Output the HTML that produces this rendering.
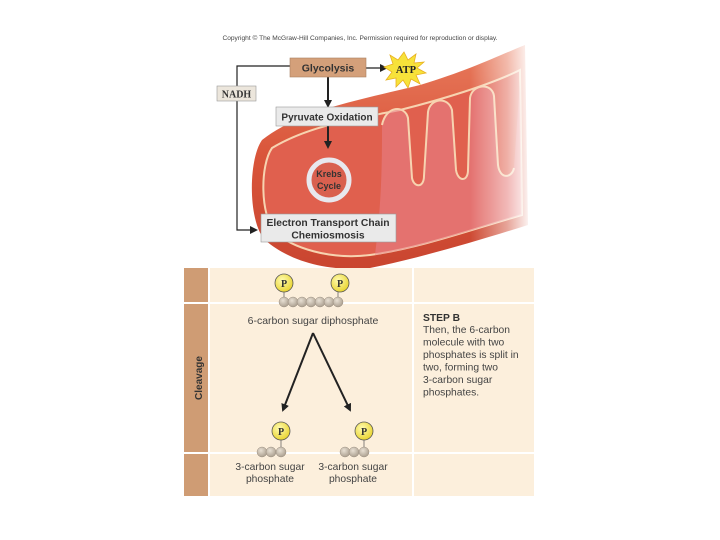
<!DOCTYPE html>
<html><head><meta charset="utf-8"><style>
html,body{margin:0;padding:0;background:#fff;}
svg{display:block;}
text{font-family:"Liberation Sans",sans-serif;}
text.serif{font-family:"Liberation Serif",serif;}
</style></head><body>
<svg width="720" height="540" viewBox="0 0 720 540">
<defs>
<linearGradient id="mg" x1="0" y1="0" x2="0" y2="1">
<stop offset="0" stop-color="#e87a5c"/><stop offset="0.5" stop-color="#d9553a"/><stop offset="1" stop-color="#c94530"/>
</linearGradient>
<linearGradient id="fade" x1="0" y1="0" x2="1" y2="0">
<stop offset="0" stop-color="#fff" stop-opacity="0"/><stop offset="0.6" stop-color="#fff" stop-opacity="0.5"/><stop offset="1" stop-color="#fff" stop-opacity="1"/>
</linearGradient>
<radialGradient id="pg" cx="0.4" cy="0.35" r="0.7">
<stop offset="0" stop-color="#fffbb0"/><stop offset="1" stop-color="#e8d22a"/>
</radialGradient>
<radialGradient id="bg" cx="0.4" cy="0.35" r="0.7">
<stop offset="0" stop-color="#e8e0d4"/><stop offset="1" stop-color="#a89c8c"/>
</radialGradient>
<marker id="ah" markerWidth="8" markerHeight="8" refX="6" refY="4" orient="auto" markerUnits="userSpaceOnUse"><path d="M0,0 L8,4 L0,8 Z" fill="#222"/></marker>
</defs>
<text x="360" y="40" font-size="6.6" text-anchor="middle" fill="#444">Copyright © The McGraw-Hill Companies, Inc. Permission required for reproduction or display.</text>
<!-- mitochondrion -->
<path d="M262,140 C300,110 360,100 420,85 C470,70 500,55 525,45 L528,225 C480,240 420,258 370,268 C330,272 290,262 265,240 C248,222 248,160 262,140 Z" fill="url(#mg)"/>
<path d="M272,148 C310,125 360,118 400,110 C440,100 490,85 520,70 L522,215 C470,230 420,248 370,255 C330,260 292,248 275,232 C260,215 260,165 272,148 Z" fill="#e0604e" stroke="#f7d3b0" stroke-width="2"/>
<path d="M382,125 C386,105 405,105 408,118 L412,178 C414,188 424,188 424,176 L428,112 C430,98 448,96 452,110 L456,170 C458,182 468,182 468,170 L470,98 C472,84 492,82 494,96 L498,165 C500,180 512,178 514,168 L520,80 L522,215 C470,230 420,248 375,255 C382,200 382,160 382,125 Z" fill="#e7828a" opacity="0.55"/>
<path d="M382,125 C386,105 405,105 408,118 L412,178 C414,188 424,188 424,176 L428,112 C430,98 448,96 452,110 L456,170 C458,182 468,182 468,170 L470,98 C472,84 492,82 494,96 L498,165 C500,180 512,178 514,168" fill="none" stroke="#f7d3b0" stroke-width="2"/>
<rect x="470" y="40" width="62" height="235" fill="url(#fade)"/>
<!-- Krebs -->
<circle cx="329" cy="180" r="20" fill="#d9604f" stroke="#e8e8ee" stroke-width="5"/>
<text x="329" y="177" font-size="9" font-weight="bold" text-anchor="middle" fill="#333">Krebs</text>
<text x="329" y="189" font-size="9" font-weight="bold" text-anchor="middle" fill="#333">Cycle</text>
<!-- connectors -->
<polyline points="290,66 237,66 237,230 256,230" fill="none" stroke="#222" stroke-width="1.2" marker-end="url(#ah)"/>
<line x1="366" y1="68" x2="386" y2="68" stroke="#222" stroke-width="1.2" marker-end="url(#ah)"/>
<line x1="328" y1="77" x2="328" y2="106" stroke="#222" stroke-width="2" marker-end="url(#ah)"/>
<line x1="328" y1="126" x2="328" y2="147" stroke="#222" stroke-width="2" marker-end="url(#ah)"/>
<!-- ATP star -->
<polygon points="404,52 408,60 416,54 414,63 424,62 417,68 426,73 416,75 420,84 411,79 408,88 403,80 396,87 396,78 386,80 392,72 384,67 393,64 390,55 398,60" fill="#f7e23a" stroke="#e8b020" stroke-width="0.8"/>
<text class="serif" x="406" y="73" font-size="10.5" font-weight="bold" text-anchor="middle" fill="#222">ATP</text>
<!-- boxes -->
<rect x="290" y="58" width="76" height="19" fill="#d4a07a" stroke="#a88060" stroke-width="0.6"/>
<text x="328" y="71.5" font-size="10.5" font-weight="bold" text-anchor="middle" fill="#333">Glycolysis</text>
<rect x="217" y="86" width="39" height="15" fill="#ece6dc" stroke="#999" stroke-width="0.6"/>
<text class="serif" x="236.5" y="97.5" font-size="10" font-weight="bold" text-anchor="middle" fill="#333">NADH</text>
<rect x="276" y="107" width="102" height="19" fill="#eaeaea" stroke="#999" stroke-width="0.6"/>
<text x="327" y="120.5" font-size="10" font-weight="bold" text-anchor="middle" fill="#333">Pyruvate Oxidation</text>
<rect x="261" y="214" width="135" height="28" fill="#eaeaea" stroke="#999" stroke-width="0.6"/>
<text x="328" y="226" font-size="10.3" font-weight="bold" text-anchor="middle" fill="#333">Electron Transport Chain</text>
<text x="328" y="238.5" font-size="10.3" font-weight="bold" text-anchor="middle" fill="#333">Chemiosmosis</text>
<!-- table -->
<rect x="184" y="268" width="350" height="228" fill="#fcefdc"/>
<rect x="184" y="268" width="24" height="228" fill="#cf9c74"/>
<rect x="184" y="302" width="350" height="2" fill="#fff"/>
<rect x="184" y="452" width="350" height="2" fill="#fff"/>
<rect x="208" y="268" width="2" height="228" fill="#fff"/>
<rect x="412" y="268" width="2" height="228" fill="#fff"/>
<text transform="translate(202,378) rotate(-90)" font-size="10" font-weight="bold" text-anchor="middle" fill="#333">Cleavage</text>
<!-- molecules -->
<g fill="url(#bg)" stroke="#8a7e70" stroke-width="0.4">
<circle cx="284" cy="302" r="5"/><circle cx="293" cy="302" r="5"/><circle cx="302" cy="302" r="5"/><circle cx="311" cy="302" r="5"/><circle cx="320" cy="302" r="5"/><circle cx="329" cy="302" r="5"/><circle cx="338" cy="302" r="5"/>
<circle cx="262" cy="452" r="5"/><circle cx="271" cy="452" r="5"/><circle cx="281" cy="452" r="5"/>
<circle cx="345" cy="452" r="5"/><circle cx="354" cy="452" r="5"/><circle cx="364" cy="452" r="5"/>
</g>
<g stroke="#555" stroke-width="0.7"><line x1="284" y1="292" x2="284" y2="297"/><line x1="338" y1="292" x2="338" y2="297"/><line x1="281" y1="439" x2="281" y2="447"/><line x1="364" y1="439" x2="364" y2="447"/></g>
<g fill="url(#pg)" stroke="#555" stroke-width="0.8">
<circle cx="284" cy="283" r="9"/><circle cx="340" cy="283" r="9"/><circle cx="281" cy="431" r="9"/><circle cx="364" cy="431" r="9"/>
</g>
<g font-size="10" font-weight="bold" text-anchor="middle" fill="#333">
<text class="serif" x="284" y="287">P</text><text class="serif" x="340" y="287">P</text><text class="serif" x="281" y="435">P</text><text class="serif" x="364" y="435">P</text>
</g>
<text x="313" y="324" font-size="10.5" text-anchor="middle" fill="#444">6-carbon sugar diphosphate</text>
<line x1="313" y1="333" x2="283" y2="410" stroke="#222" stroke-width="2" marker-end="url(#ah)"/>
<line x1="313" y1="333" x2="350" y2="410" stroke="#222" stroke-width="2" marker-end="url(#ah)"/>
<g font-size="10.3" text-anchor="middle" fill="#444">
<text x="270" y="470">3-carbon sugar</text><text x="270" y="482">phosphate</text>
<text x="353" y="470">3-carbon sugar</text><text x="353" y="482">phosphate</text>
</g>
<g font-size="10.3" fill="#444">
<text x="423" y="321" font-weight="bold" fill="#333">STEP B</text>
<text x="423" y="333">Then, the 6-carbon</text>
<text x="423" y="345.5">molecule with two</text>
<text x="423" y="358">phosphates is split in</text>
<text x="423" y="370.5">two, forming two</text>
<text x="423" y="383">3-carbon sugar</text>
<text x="423" y="395.5">phosphates.</text>
</g>
</svg>
</body></html>
